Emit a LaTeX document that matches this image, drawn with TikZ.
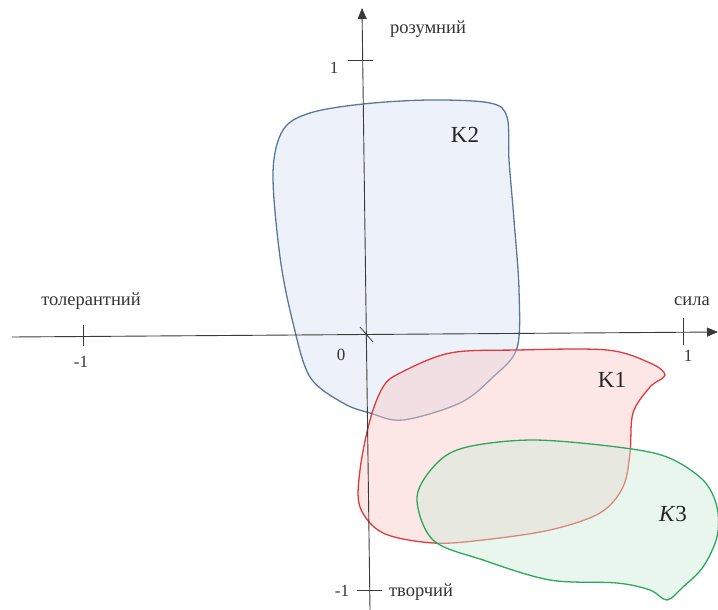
\documentclass[tikz,border=0pt]{standalone}
\usepackage{fontspec}
\setmainfont{Liberation Serif}
\usepackage{xcolor}
\usepackage{tikz}
\usetikzlibrary{arrows.meta}
\definecolor{AxisGray}{HTML}{3A3A3A}
\definecolor{ClustBlue}{HTML}{5A7896}
\definecolor{ClustRed}{HTML}{E03A3A}
\definecolor{ClustGreen}{HTML}{2EA65E}
\definecolor{FillBlue}{HTML}{DCE6F5}
\definecolor{FillRed}{HTML}{F8C8C8}
\definecolor{FillGreen}{HTML}{CDEBD6}
\tikzset{
  axisline/.style={draw=AxisGray,line width=0.9pt,-{Triangle[length=11pt,width=9pt]}},
  tickline/.style={draw=AxisGray,line width=0.8pt},
  axlabel/.style={font=\fontsize{18.5}{21}\selectfont,text=black!80,inner sep=1pt},
  numlabel/.style={font=\fontsize{17}{20}\selectfont,text=black!80,inner sep=1pt},
  klabel/.style={font=\fontsize{23}{26}\selectfont,text=black!85,inner sep=1pt},
  blobK2/.style={draw=ClustBlue,line width=1.3pt,fill=FillBlue,fill opacity=0.5},
  blobK1/.style={draw=ClustRed,line width=1.3pt,fill=FillRed,fill opacity=0.45},
  blobK3/.style={draw=ClustGreen,line width=1.3pt,fill=FillGreen,fill opacity=0.45},
}

\begin{document}
\begin{tikzpicture}[x=1pt,y=-1pt]
  \useasboundingbox (0,0) rectangle (718,610);
  % clusters
  \draw[blobK2] plot[smooth cycle,tension=0.55] coordinates {
    (310,113) (363,104) (430,100) (490,103) (507,117) (509,160) (514,220)
    (519,290) (517,348) (493,377) (460,403) (403,420) (370,413) (343,403)
    (310,377) (293,323) (280,257) (273,173) (283,130)};
  \draw[blobK1] plot[smooth cycle,tension=0.55] coordinates {
    (400,373) (450,353) (517,350) (607,350) (650,363) (665,375) (650,387)
    (633,413) (630,453) (623,487) (600,513) (550,530) (483,540) (433,543)
    (383,533) (360,507) (360,470) (370,420) (383,387)};
  \draw[blobK3] plot[smooth cycle,tension=0.55] coordinates {
    (417,497) (437,463) (467,447) (533,440) (617,447) (667,457) (703,480)
    (717,507) (717,537) (703,567) (683,587) (667,600) (650,590) (617,583)
    (550,580) (483,560) (433,540)};
  % axes
  \coordinate (xl) at (12,337);
  \coordinate (xr) at (718,332);
  \coordinate (yb) at (370,610);
  \coordinate (yt) at (362,8);
  \draw[axisline] (xl) -- (xr);
  \draw[axisline] (yb) -- (yt);
  \draw[tickline] (360,327) -- (373,342);
  \draw[tickline] (83,325) -- (83,346);
  \draw[tickline] (683,318) -- (683,345);
  \draw[tickline] (348,60) -- (373,60);
  \draw[tickline] (357,590) -- (382,590);
  % labels
  \node[axlabel] (up) at (428,29) {розумний};
  \node[axlabel] (left) at (91,301) {толерантний};
  \node[axlabel] (right) at (692,301) {сила};
  \node[axlabel] (down) at (421,592) {творчий};
  \node[numlabel] (n1y) at (334,68) {1};
  \node[numlabel] (m1x) at (81,362) {-1};
  \node[numlabel] (n1x) at (688,356) {1};
  \node[numlabel] (m1y) at (342,591) {-1};
  \node[numlabel] (zero) at (341,355) {0};
  \node[klabel] (k2) at (465,135) {K2};
  \node[klabel] (k1) at (612,380) {K1};
  \node[klabel] (k3) at (673,514) {\textit{K}3};
\end{tikzpicture}
\end{document}
